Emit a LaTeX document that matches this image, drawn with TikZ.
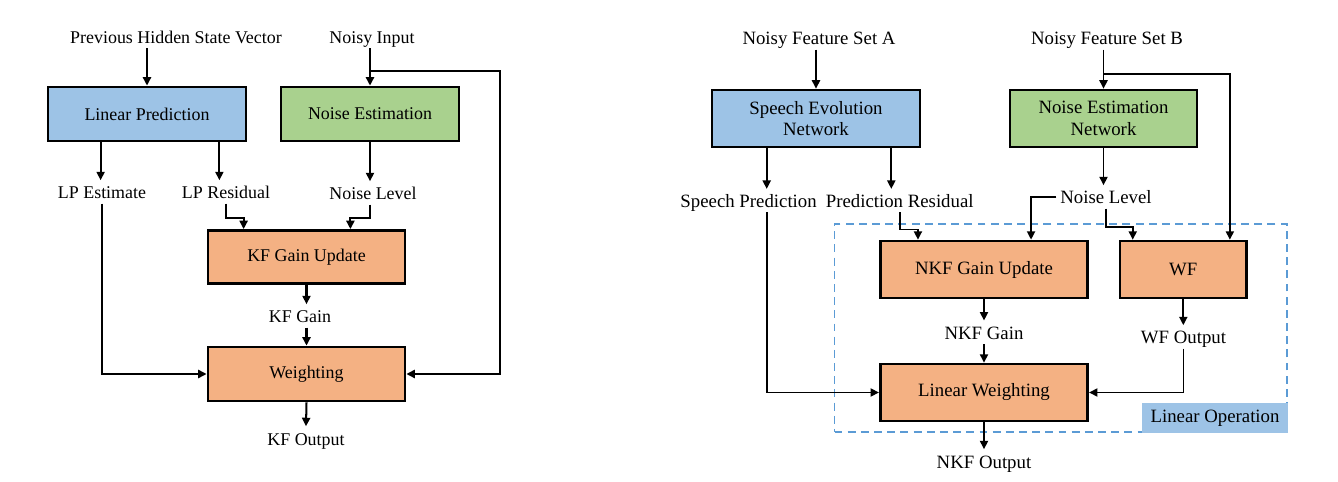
\documentclass[tikz,border=0pt]{standalone}
\usepackage{fontspec}
\setmainfont{Liberation Serif}
\usetikzlibrary{arrows.meta,calc}
\definecolor{lpblue}{HTML}{9DC3E6}
\definecolor{negreen}{HTML}{A9D18E}
\definecolor{kforange}{HTML}{F4B183}
\definecolor{opblue}{HTML}{5B9BD5}

\begin{document}
\begin{tikzpicture}[x=0.02cm, y=-0.02cm, >={Triangle[length=4.8pt,width=4.6pt]},
        blk/.style={draw=black, line width=1.6pt, inner sep=0pt, align=center},
        lbl/.style={inner sep=2pt, text height=8.5pt, text depth=0.5pt, anchor=base},
        lfont/.style={font=\fontsize{10.2}{12}\selectfont},
        rfont/.style={font=\fontsize{10.7}{12.3}\selectfont}]
                \useasboundingbox (0,0) rectangle (1338,482);
                % left: KF
                \begin{scope}[every node/.style={lbl, lfont}]
                    \node (phv) at (176,43.5) {Previous Hidden State Vector};
                    \node (ni) at (372,43.5) {Noisy Input};
                    \node (lpe) at (102,199) {LP Estimate};
                    \node (lpr) at (226,199) {LP Residual};
                    \node (nla) at (373,200) {Noise Level};
                    \node (kg) at (300,323) {KF Gain};
                    \node (ko) at (306,445) {KF Output};
                \end{scope}
                \begin{scope}[every node/.style={blk, lfont}]
                    \node (lp) [fill=lpblue, minimum width=3.96cm, minimum height=1.08cm] at (147,114) {Linear Prediction};
                    \node (ne) [fill=negreen, minimum width=3.56cm, minimum height=1.08cm] at (370,114) {Noise Estimation};
                    \node (kfg) [fill=kforange, minimum width=3.94cm, minimum height=1.06cm] at (306.5,257) {KF Gain Update};
                    \node (wt) [fill=kforange, minimum width=3.94cm, minimum height=1.08cm] at (306.5,374) {Weighting};
                \end{scope}
                \begin{scope}[line width=1.15pt]
                    \coordinate (nibr) at (370,71);
                    \coordinate (nirt) at (500,71);
                    \coordinate (lpex) at ($(lp.south west)+(54,0)$);
                    \coordinate (lprx) at ($(lp.south east)+(-28,0)$);
                    \draw[->] (phv.south -| lp.north) -- (lp.north);
                    \draw[->] (ni.south -| ne.north) -- (ne.north);
                    \draw[->] (nibr) -- (nirt) |- (wt.east);
                    \draw[->] (lpex) -- (lpex |- lpe.north);
                    \draw[->] (lprx) -- (lprx |- lpr.north);
                    \draw[->] (ne.south) -- (ne.south |- nla.north);
                    \draw[->] (lpe.south) |- (wt.west);
                    \draw[->] (lpr.south) -- ++(0,14) -| ($(kfg.north west)+(37,0)$);
                    \draw[->] (nla.south -| ne.south) -- ++(0,13) -| ($(kfg.north east)+(-56,0)$);
                    \draw[->] (kfg.south) -- (kfg.south |- kg.north);
                    \draw[->] (wt.north |- kg.south) -- (wt.north);
                    \draw[->] (wt.south) -- (ko.north);
                \end{scope}
                % right: NKF
                \node (linop) [draw=opblue, line width=0.7pt, dash pattern=on 4.5pt off 3pt, minimum width=9.05cm, minimum height=4.16cm] at (1060.75,328) {};
                \begin{scope}[every node/.style={lbl, rfont}]
                    \node (nfa) at (819,45) {Noisy Feature Set A};
                    \node (nfb) at (1107,45) {Noisy Feature Set B};
                    \node (sp) at (748.6,207.7) {Speech Prediction};
                    \node (pr) at (899.7,207.7) {Prediction Residual};
                    \node (nlb) at (1106,204) {Noise Level};
                    \node (ng) at (984,339.3) {NKF Gain};
                    \node (wfo) at (1183.5,344) {WF Output};
                    \node (no) at (984,468) {NKF Output};
                \end{scope}
                \begin{scope}[every node/.style={blk, line width=1.5pt, rfont}]
                    \node (sen) [fill=lpblue, minimum width=4.16cm, minimum height=1.14cm] at (816,118.5) {Speech Evolution\\Network};
                    \node (nen) [fill=negreen, minimum width=3.74cm, minimum height=1.14cm] at (1103.5,118.5) {Noise Estimation\\Network};
                    \node (nkg) [fill=kforange, minimum width=4.15cm, minimum height=1.14cm] at (984,269.5) {NKF Gain Update};
                    \node (wf) [fill=kforange, minimum width=2.53cm, minimum height=1.14cm] at (1183.3,269.5) {WF};
                    \node (lw) [fill=kforange, minimum width=4.15cm, minimum height=1.14cm] at (984,392.5) {Linear Weighting};
                    \node (lop) [draw=none, fill=lpblue, anchor=south east, minimum width=2.93cm, minimum height=0.6cm] at ($(linop.south east)+(2,2)$) {Linear Operation};
                \end{scope}
                \begin{scope}[line width=1.05pt]
                    \coordinate (nfbbr) at (1103.5,74);
                    \coordinate (spx) at ($(sen.south west)+(56,0)$);
                    \coordinate (prx) at ($(sen.south east)+(-30,0)$);
                    \draw[->] (nfa.south -| sen.north) -- (sen.north);
                    \draw[->] (nfb.south -| nen.north) -- (nen.north);
                    \draw[->] (nfbbr) -| ($(wf.north east)+(-18,0)$);
                    \draw[->] (spx) -- (spx |- sp.north);
                    \draw[->] (spx |- sp.south) |- (lw.west);
                    \draw[->] (prx) -- (prx |- pr.north);
                    \draw[->] (pr.south) -- ++(0,17) -| ($(nkg.north west)+(39,0)$);
                    \draw[->] (nen.south) -- (nen.south |- nlb.north);
                    \draw[->] (nlb.west) -| ($(nkg.north east)+(-58,0)$);
                    \draw[->] (nlb.south) -- ++(0,18) -| ($(wf.north west)+(14,0)$);
                    \draw[->] (nkg.south) -- (nkg.south |- ng.north);
                    \draw[->] (lw.north |- ng.south) -- (lw.north);
                    \draw[->] (wf.south) -- (wf.south |- wfo.north);
                    \draw[->] (wfo.south) |- (lw.east);
                    \draw[->] (lw.south) -- (no.north);
                \end{scope}
            \end{tikzpicture}
\end{document}
